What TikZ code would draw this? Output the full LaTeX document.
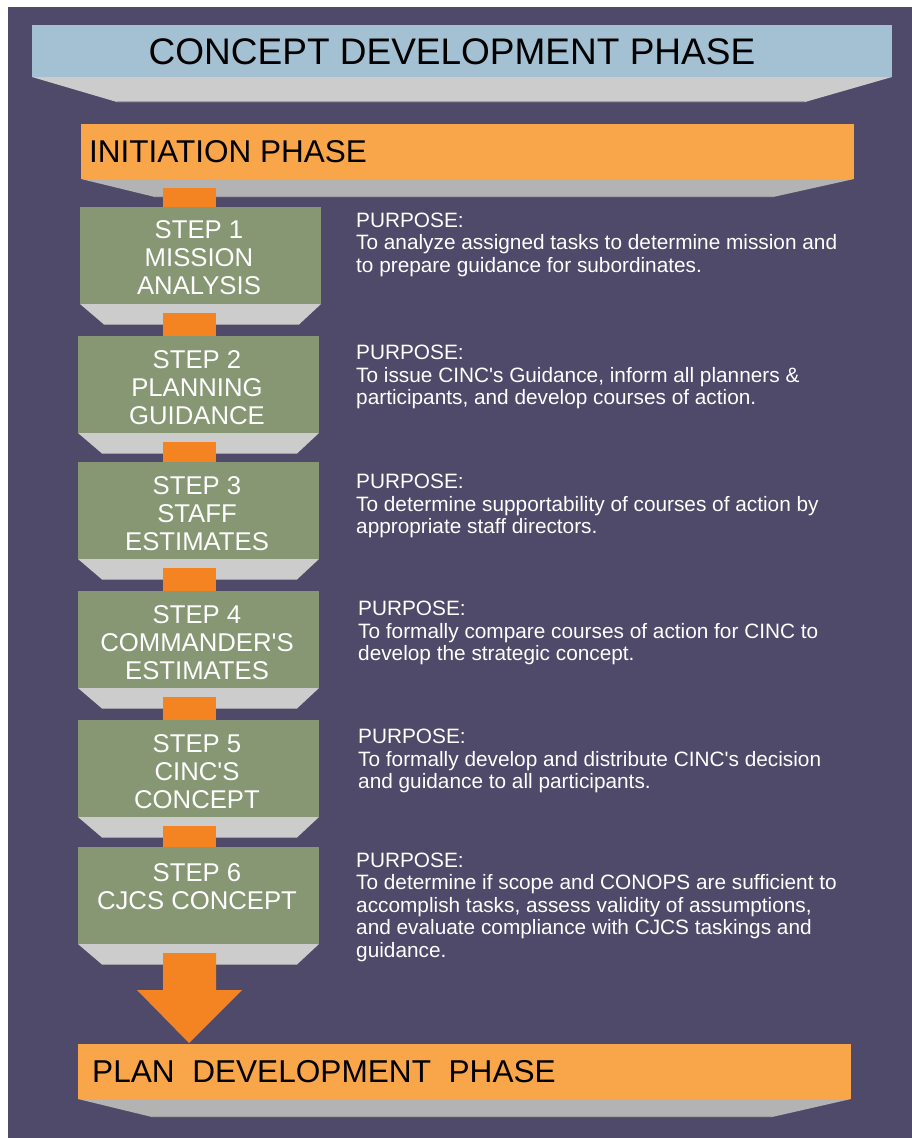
\documentclass[tikz,border=0pt]{standalone}
\usepackage{fontspec}
\newfontfamily\arial{Liberation Sans}
\usetikzlibrary{calc}
\definecolor{bgpurple}{HTML}{4F4A6A}
\definecolor{titleblue}{HTML}{A3C1D2}
\definecolor{lightorange}{HTML}{F9A54A}
\definecolor{darkorange}{HTML}{F48421}
\definecolor{stepgreen}{HTML}{879673}
\definecolor{shadelight}{HTML}{CCCCCC}
\definecolor{shadedark}{HTML}{B3B3B3}
\definecolor{shadeedge}{HTML}{A0A0A0}
\newcommand\dropshade[5]{% node, colour, left inset, right inset, depth
  \fill[#2] (#1.south west) -- (#1.south east) -- ([xshift=-#4pt,yshift=-#5pt]#1.south east) -- ([xshift=#3pt,yshift=-#5pt]#1.south west) -- cycle;
  \draw[shadeedge, line width=1pt] ([xshift=#3pt,yshift=-#5pt+0.5pt]#1.south west) -- ([xshift=-#4pt,yshift=-#5pt+0.5pt]#1.south east);
}
\begin{document}
\begin{tikzpicture}[x=1pt,y=-1pt,
  every node/.style={font=\arial},
  panel/.style={rectangle, inner sep=0pt, outer sep=0pt, draw=none, anchor=north west},
  steptext/.style={inner sep=0pt, anchor=north, align=center, text=white, font=\arial\fontsize{25.7}{28}\selectfont},
  purptext/.style={inner sep=0pt, anchor=north west, align=left, text=white, font=\arial\fontsize{20.8}{22.5}\selectfont},
  conn/.style={fill=darkorange}]
\useasboundingbox (0,0) rectangle (912,1138);
\fill[bgpurple] (8,7) rectangle (912,1138);
\coordinate (cl) at (163,0);
\coordinate (cr) at (216,0);

% title
\node[panel, fill=titleblue, minimum width=860pt, minimum height=52pt] (title) at (32,25) {};
\dropshade{title}{shadelight}{85}{87}{25}
\node[anchor=base, inner sep=0pt, font=\arial\fontsize{37}{40}\selectfont] (titletext) at (452,64) {CONCEPT DEVELOPMENT PHASE};

% initiation
\node[panel, fill=lightorange, minimum width=773pt, minimum height=55pt] (init) at (81,124) {};
\dropshade{init}{shadedark}{74}{81}{18}
\node[anchor=base west, inner sep=0pt, font=\arial\fontsize{31.5}{36}\selectfont] (inittext) at (89,162.3) {INITIATION PHASE};

% steps
\foreach \i/\xl/\yt/\ty/\lab in {
  1/80/207/220.7/{STEP 1\\MISSION\\ANALYSIS},
  2/78/336/350/{STEP 2\\PLANNING\\GUIDANCE},
  3/78/462/476.7/{STEP 3\\STAFF\\ESTIMATES},
  4/78/591/605.7/{STEP 4\\COMMANDER'S\\ESTIMATES},
  5/78/720/734/{STEP 5\\CINC'S\\CONCEPT},
  6/78/847/863.3/{STEP 6\\CJCS CONCEPT}}{
  \node[panel, fill=stepgreen, minimum width=241pt, minimum height=97pt] (s\i) at (\xl,\yt) {};
  \dropshade{s\i}{shadelight}{24}{22}{20.5}
  \node[steptext] (t\i) at ([xshift=-1.5pt]s\i.north |- 0,\ty) {\lab};
}

% connectors
\fill[conn] ([yshift=-9pt]cl |- init.south) rectangle (cr |- s1.north);
\foreach \i/\j in {1/2,2/3,3/4,4/5,5/6}{
  \fill[conn] ([yshift=-8.5pt]cl |- s\i.south) rectangle (cr |- s\j.north);
}

% purposes
\node[purptext] (p1) at (356,212.3) {PURPOSE:\\To analyze assigned tasks to determine mission and\\to prepare guidance for subordinates.};
\node[purptext] (p2) at (356,345) {PURPOSE:\\To issue CINC's Guidance, inform all planners \&\\participants, and develop courses of action.};
\node[purptext] (p3) at (356,474) {PURPOSE:\\To determine supportability of courses of action by\\appropriate staff directors.};
\node[purptext] (p4) at (358,601) {PURPOSE:\\To formally compare courses of action for CINC to\\develop the strategic concept.};
\node[purptext] (p5) at (358,729) {PURPOSE:\\To formally develop and distribute CINC's decision\\and guidance to all participants.};
\node[purptext] (p6) at (356,852.3) {PURPOSE:\\To determine if scope and CONOPS are sufficient to\\accomplish tasks, assess validity of assumptions,\\and evaluate compliance with CJCS taskings and\\guidance.};

% plan development
\node[panel, fill=lightorange, minimum width=773pt, minimum height=55pt] (plan) at (78,1044) {};
\dropshade{plan}{shadedark}{74}{79}{18}
\node[anchor=base west, inner sep=0pt, font=\arial\fontsize{31.6}{34}\selectfont] (plantext) at (92,1082.7) {PLAN\ \ DEVELOPMENT\ \ PHASE};

% big arrow
\coordinate (tip) at (189,1043);
\fill[conn] ([yshift=-9pt]cl |- s6.south) -- ([yshift=-9pt]cr |- s6.south) -- (cr |- 0,990) -- (242,990) -- (tip) -- (137,990) -- (cl |- 0,990) -- cycle;
\end{tikzpicture}
\end{document}
